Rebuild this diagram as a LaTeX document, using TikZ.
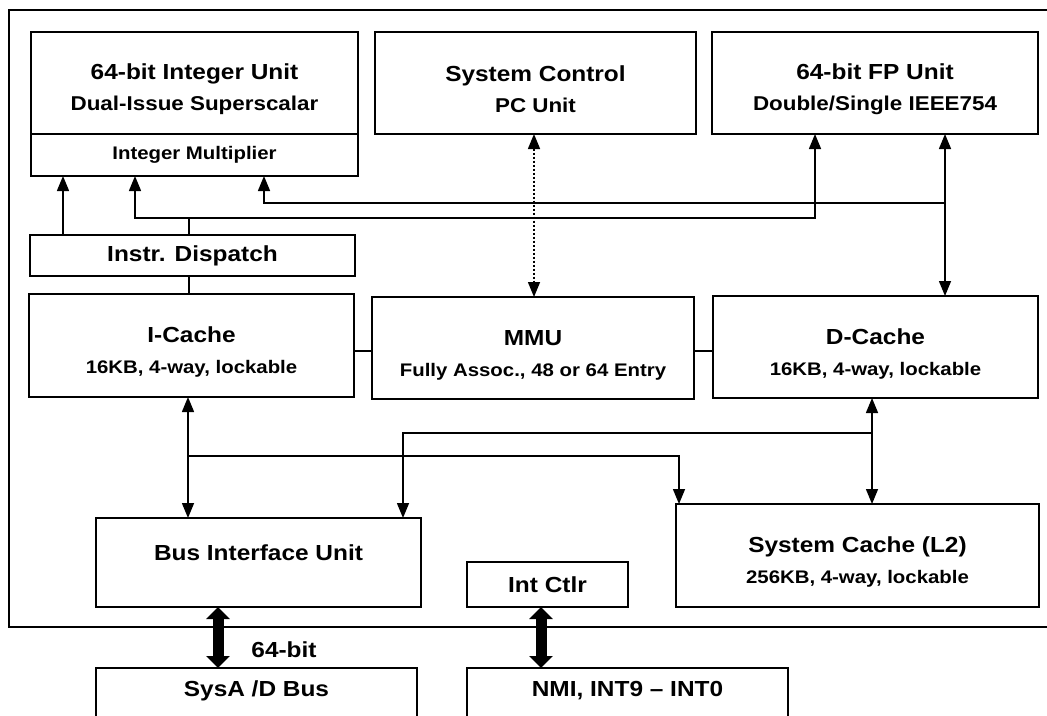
\documentclass[tikz,border=0pt]{standalone}
\usepackage{fontspec}
\setmainfont{Liberation Sans}[FakeStretch=1.12]
\usetikzlibrary{arrows.meta,positioning}

\newcommand{\titlesz}{\fontsize{21.8pt}{31pt}\selectfont\bfseries}
\newcommand{\subsz}{\fontsize{20pt}{31pt}\selectfont\bfseries}
\newcommand{\smallsz}{\fontsize{18.2pt}{31pt}\selectfont\bfseries}
\newcommand{\twoline}[2]{\rule{0pt}{29pt}#1\\{#2}}

\tikzstyle{blk}      = [rectangle, draw, line width=1.5pt, inner sep=0pt, outer sep=0pt, align=center, font=\titlesz]
\tikzstyle{link}     = [line width=1.5pt]
\tikzstyle{arr}      = [link, -{Triangle[length=15pt,width=12pt]}]
\tikzstyle{darr}     = [link, {Triangle[length=15pt,width=12pt]}-{Triangle[length=15pt,width=12pt]}]
\tikzstyle{thickbus} = [line width=11pt, {Triangle[length=12pt,width=23pt]}-{Triangle[length=12pt,width=23pt]}]

\begin{document}
\begin{tikzpicture}[x=1pt, y=-1pt]
\useasboundingbox (0,0) rectangle (1047,715);

% chip outline (runs off the right edge)
\draw [link] (1047,10) -- (9,10) -- (9,627) -- (1047,627);

% top row
\node (intu) [blk, minimum width=327pt, minimum height=102pt] at (194.5,83) {\twoline{64-bit Integer Unit}{\subsz Dual-Issue Superscalar}};
\node (imul) [blk, minimum width=327pt, minimum height=42pt, font=\smallsz, below=0pt of intu] {Integer Multiplier};
\node (sysc) [blk, minimum width=321pt, minimum height=102pt] at (535.5,83) {\twoline{System Control}{\subsz PC Unit}};
\node (fpu)  [blk, minimum width=326pt, minimum height=102pt] at (875,83) {\twoline{64-bit FP Unit}{\subsz Double/Single IEEE754}};

% dispatch and caches
\node (disp)   [blk, minimum width=325pt, minimum height=41pt] at (192.5,255.5) {Instr. Dispatch};
\node (icache) [blk, minimum width=325pt, minimum height=103pt] at (191.5,345.5) {\twoline{I-Cache}{\smallsz 16KB, 4-way, lockable}};
\node (mmu)    [blk, minimum width=322pt, minimum height=102pt] at (533,348) {\twoline{MMU}{\smallsz Fully Assoc., 48 or 64 Entry}};
\node (dcache) [blk, minimum width=325pt, minimum height=102pt] at (875.5,347) {\twoline{D-Cache}{\smallsz 16KB, 4-way, lockable}};

% bottom row
\node (biu)  [blk, minimum width=325pt, minimum height=89pt, text height=16pt, text depth=21pt] at (258.5,562.5) {Bus Interface Unit};
\node (intc) [blk, minimum width=161pt, minimum height=45pt] at (547.5,584.5) {Int Ctlr};
\node (l2)   [blk, minimum width=363pt, minimum height=103pt] at (857.5,555.5) {\twoline{System Cache (L2)}{\smallsz 256KB, 4-way, lockable}};

% off-chip, cut by the page edge
\node (sysbus) [blk, anchor=north, minimum width=321pt, minimum height=50pt, text height=16pt, text depth=9pt] at (256.5,668) {SysA /D Bus};
\node (nmi)    [blk, anchor=north, minimum width=321pt, minimum height=50pt, text height=16pt, text depth=9pt] at (627.5,668) {NMI, INT9 -- INT0};
\node (w64) [font=\titlesz] at (284,650) {64-bit};

% upper buses
\coordinate (b1w) at (135,218);
\coordinate (b1e) at (815,218);
\coordinate (b2w) at (264,203);
\coordinate (b2e) at (945,203);
\coordinate (dx) at ([xshift=-3.5pt]disp.north);
\coordinate (ix) at ([xshift=-129.5pt]disp.north);
\coordinate (sx) at ([xshift=-1.5pt]sysc.south);
\draw [darr] (imul.south -| b1w) -- (b1w) -- (b1e) -- (fpu.south -| b1e);
\draw [arr] (b2e) -- (b2w) -- (imul.south -| b2w);
\draw [darr] (fpu.south -| b2e) -- (dcache.north -| b2e);
\draw [arr] (ix) -- (ix |- imul.south);
\draw [link] (dx) -- (dx |- b1w);
\draw [link] (disp.south -| dx) -- (icache.north -| dx);
\draw [darr, dash pattern=on 2pt off 2pt] (sx) -- (sx |- mmu.north);

% cache links
\coordinate (lk) at (0,351);
\draw [link] (icache.east |- lk) -- (mmu.west |- lk);
\draw [link] (mmu.east |- lk) -- (dcache.west |- lk);

% lower buses
\coordinate (b3w) at (188,456);
\coordinate (b3e) at (679,456);
\coordinate (b4w) at (403,433);
\coordinate (b4e) at (872,433);
\draw [darr] (icache.south -| b3w) -- (biu.north -| b3w);
\draw [arr] (b3w) -- (b3e) -- (l2.north -| b3e);
\draw [darr] (dcache.south -| b4e) -- (l2.north -| b4e);
\draw [arr] (b4e) -- (b4w) -- (biu.north -| b4w);

% external
\draw [thickbus] ([xshift=-40.5pt]biu.south) -- ([xshift=-40.5pt]biu.south |- sysbus.north);
\draw [thickbus] ([xshift=-6.5pt]intc.south) -- ([xshift=-6.5pt]intc.south |- nmi.north);
\end{tikzpicture}
\end{document}
